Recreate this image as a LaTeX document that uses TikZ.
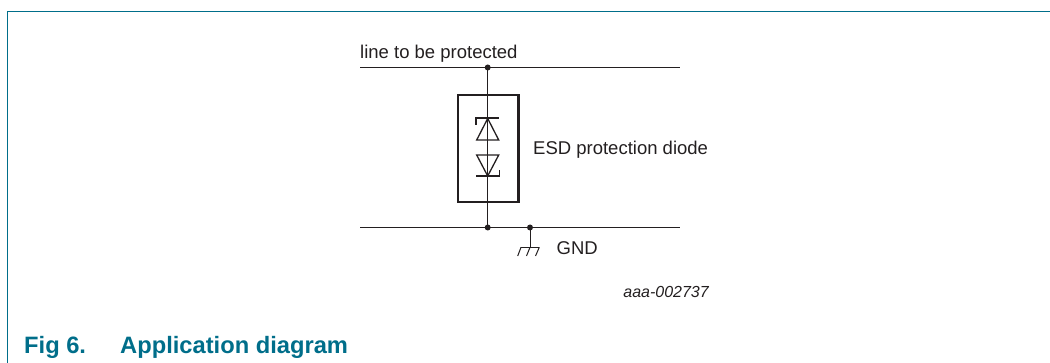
\documentclass[tikz,border=0pt]{standalone}
\usepackage{fontspec}
\setmainfont{Liberation Sans}
\definecolor{nxpteal}{RGB}{0,110,138}
\definecolor{ink}{RGB}{35,31,32}
\tikzset{
  x=1pt,y=-1pt,
  frameline/.style={draw=nxpteal,line width=1.3pt},
  wire/.style={draw=ink,line width=1.1pt},
  thin wire/.style={draw=ink,line width=1pt},
  heavy/.style={draw=ink,line width=2.2pt},
  dio/.style={draw=ink,line width=1.3pt,line join=miter},
  bar/.style={draw=ink,line width=1.6pt},
  dotn/.style={circle,fill=ink,draw=none,inner sep=0pt,minimum size=6pt},
  lab/.style={inner sep=0pt,text=ink,font=\fontsize{18.5}{22}\selectfont,anchor=base west},
  idlab/.style={inner sep=0pt,text=ink,font=\fontsize{16}{19}\selectfont\itshape,anchor=base east},
  captn/.style={inner sep=0pt,text=nxpteal,font=\fontsize{23.7}{28}\selectfont\bfseries,anchor=base west}
}
\begin{document}
\begin{tikzpicture}
\useasboundingbox (0,0) rectangle (1050,363);
\coordinate (ftop) at (1050,11.5);
\coordinate (fcorner) at (7.5,11.5);
\coordinate (fbot) at (7.5,363);
\draw[frameline] (ftop) -- (fcorner) -- (fbot);
% rails
\coordinate (t1) at (360,67.5);
\coordinate (t2) at (680,67.5);
\coordinate (b1) at (360,227.5);
\coordinate (b2) at (680,227.5);
\draw[wire] (t1) -- (t2);
\draw[wire] (b1) -- (b2);
\node[dotn] (jt) at (487.7,67.5) {};
\node[dotn] (jb) at (487.7,227.5) {};
\node[dotn] (jg) at (530,227.5) {};
\draw[thin wire] (jt.center) -- (jb.center);
\draw[heavy] (458,95) rectangle (518.5,202);
% upper diode
\draw[dio] (476.7,140) -- (487.7,118.5) -- (498.7,140) -- cycle;
\draw[bar] (476.2,125) -- (476.2,118.3) -- (499.3,118.3);
% lower diode
\draw[dio] (476.7,155) -- (487.7,176) -- (498.7,155) -- cycle;
\draw[bar] (476,176.3) -- (499.3,176.3) -- (499.3,170.5);
% ground
\coordinate (gb) at (530,247.3);
\draw[thin wire] (jg.center) -- (gb);
\draw[thin wire] (521,247.3) -- (539.3,247.3);
\draw[thin wire] (521,247.3) -- (517.7,256);
\draw[thin wire] (530,247.3) -- (526.5,256);
\draw[thin wire] (539.3,247.3) -- (535.5,256);
\node[lab] (l1) at (360,58.5) {line to be protected};
\node[lab] (l2) at (533,155) {ESD protection diode};
\node[lab] (l3) at (556.5,255) {GND};
\node[idlab] (l4) at (709,298) {aaa-002737};
\node[captn] (c1) at (24,354) {Fig 6.};
\node[captn] (c2) at (120,354) {Application diagram};
\end{tikzpicture}
\end{document}
